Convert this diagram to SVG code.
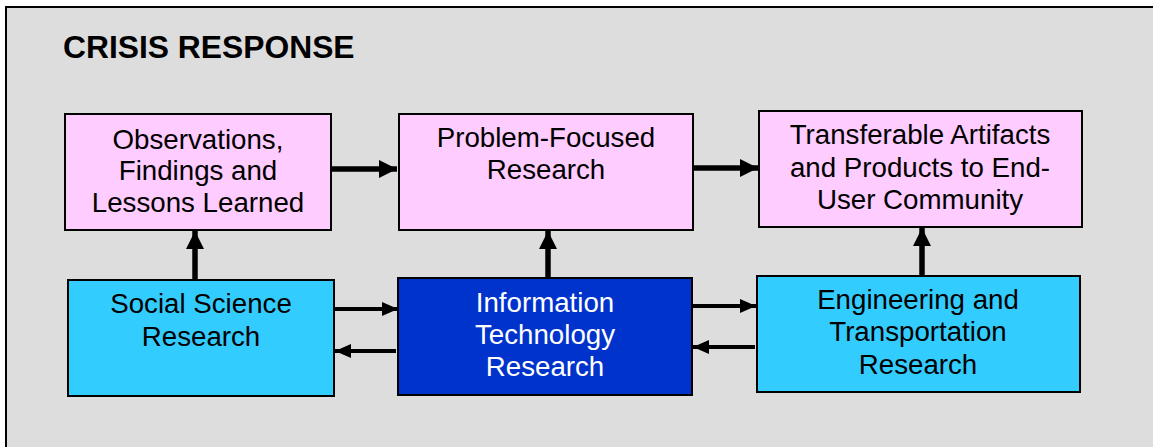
<svg xmlns="http://www.w3.org/2000/svg" width="1153" height="447" viewBox="0 0 1153 447">
  <style>
    text { font-family: "Liberation Sans", Arial, sans-serif; font-size: 27.7px; text-anchor: middle; fill: #000; }
    .title { font-size: 31.8px; font-weight: bold; text-anchor: start; }
    .box { stroke: #000; stroke-width: 2; }
    .pink { fill: #FFCCFF; }
    .cyan { fill: #33CCFF; }
    .navy { fill: #0033CC; }
    .light { fill: #FFFFFF; }
    .thick { stroke: #000; stroke-width: 5.5; fill: none; marker-end: url(#headBig); }
    .thin { stroke: #000; stroke-width: 4; fill: none; marker-end: url(#headSmall); }
  </style>
  <defs>
    <marker id="headBig" markerUnits="userSpaceOnUse" markerWidth="20" markerHeight="20" refX="18" refY="10" orient="auto">
      <path d="M0,1 L18,10 L0,19 Z" fill="#000"/>
    </marker>
    <marker id="headSmall" markerUnits="userSpaceOnUse" markerWidth="18" markerHeight="16" refX="16" refY="8" orient="auto">
      <path d="M0,1 L16,8 L0,15 Z" fill="#000"/>
    </marker>
  </defs>

  <!-- panel -->
  <rect x="0" y="0" width="1153" height="447" fill="#FFFFFF"/>
  <rect x="6" y="7" width="1160" height="460" fill="#DDDDDD" stroke="#000" stroke-width="2"/>
  <text class="title" x="63" y="58">CRISIS RESPONSE</text>

  <!-- connectors -->
  <g id="connectors">
    <path class="thick" d="M331,169 H397"/>
    <path class="thick" d="M693,168 H758"/>
    <path class="thick" d="M195,280 V231"/>
    <path class="thick" d="M548,278 V231"/>
    <path class="thick" d="M922,276 V228"/>
    <path class="thin" d="M334,309 H398"/>
    <path class="thin" d="M396,351 H335"/>
    <path class="thin" d="M692,306 H756"/>
    <path class="thin" d="M755,347 H693"/>
  </g>

  <g id="observations">
    <rect class="box pink" x="65" y="114" width="266" height="116"/>
    <text x="198" y="149">Observations,</text>
    <text x="198" y="180">Findings and</text>
    <text x="198" y="212">Lessons Learned</text>
  </g>

  <g id="problem-focused">
    <rect class="box pink" x="399" y="114" width="294" height="116"/>
    <text x="546" y="147">Problem-Focused</text>
    <text x="546" y="179">Research</text>
  </g>

  <g id="transferable">
    <rect class="box pink" x="759" y="111" width="323" height="116"/>
    <text x="920" y="144">Transferable Artifacts</text>
    <text x="920" y="177">and Products to End-</text>
    <text x="920" y="209">User Community</text>
  </g>

  <g id="social-science">
    <rect class="box cyan" x="68" y="280" width="266" height="116"/>
    <text x="201" y="313">Social Science</text>
    <text x="201" y="346">Research</text>
  </g>

  <g id="information-technology">
    <rect class="box navy" x="398" y="278" width="294" height="117"/>
    <text class="light" x="545" y="312">Information</text>
    <text class="light" x="545" y="344">Technology</text>
    <text class="light" x="545" y="376">Research</text>
  </g>

  <g id="engineering">
    <rect class="box cyan" x="757" y="276" width="323" height="116"/>
    <text x="918" y="309">Engineering and</text>
    <text x="918" y="341">Transportation</text>
    <text x="918" y="374">Research</text>
  </g>
</svg>
